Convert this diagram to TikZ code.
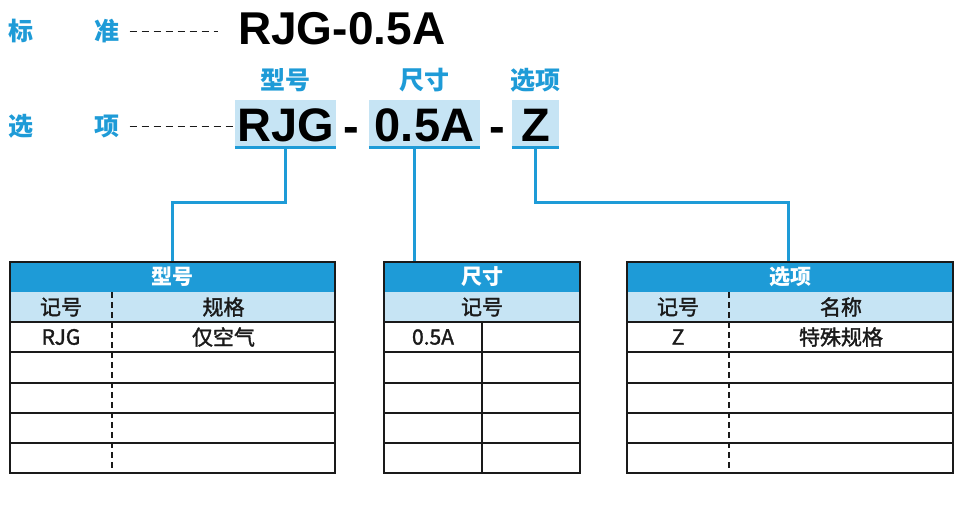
\documentclass[tikz,border=0pt]{standalone}
\usepackage{fontspec}
\setmainfont{Liberation Sans}
\newfontfamily\cjk{Noto Sans CJK SC}
\newfontfamily\cjkm[FakeBold=1.6]{Noto Sans CJK SC}
\usetikzlibrary{positioning}

\definecolor{cblue}{HTML}{1E9BD7}
\definecolor{lblue}{HTML}{C6E4F4}
\definecolor{ink}{HTML}{1A1A1A}

\tikzset{
  lbl/.style={text=cblue, inner sep=0pt, font=\cjk\bfseries\fontsize{25}{25}\selectfont},
  codebox/.style={fill=lblue, inner sep=0pt, anchor=south, minimum height=47pt,
    text height=42pt, text depth=5pt, font=\bfseries\fontsize{47}{47}\selectfont},
  link/.style={cblue, line width=3pt},
  headbar/.style={fill=cblue, text=white, inner sep=0pt, minimum height=30pt,
    font=\cjk\bfseries\fontsize{21}{21}\selectfont},
  cell/.style={inner sep=0pt, text=ink, font=\cjkm\fontsize{21}{21}\selectfont},
  frame/.style={ink, line width=2pt},
  divider/.style={ink, line width=2pt, dash pattern=on 6pt off 4pt}
}

\begin{document}
\begin{tikzpicture}[x=1pt,y=-1pt]
  \useasboundingbox (0,0) rectangle (979,506);

  % left labels
  \node[lbl] (biao) at (21,31) {标};
  \node[lbl] (zhun) at (107,31) {准};
  \node[lbl] (xuan) at (21,126) {选};
  \node[lbl] (xiang) at (107,126) {项};

  % standard code
  \node[anchor=base west, inner sep=0pt, font=\bfseries\fontsize{46}{46}\selectfont] (std) at (238,44) {RJG-0.5A};
  \draw[ink, line width=1pt, dash pattern=on 7pt off 5pt, shorten <=10pt, shorten >=20pt] (zhun.east) -- (zhun.east -| std.west);

  % option code
  \node[codebox, minimum width=101pt] (model) at (285.5,147) {RJG};
  \node[codebox, minimum width=111pt] (size) at (424.5,147) {0.5A};
  \node[codebox, minimum width=47pt] (opt) at (535.5,147) {Z};
  \node[anchor=base, inner sep=0pt, font=\bfseries\fontsize{47}{47}\selectfont] (dashA) at (351,142) {-};
  \node[anchor=base, inner sep=0pt, font=\bfseries\fontsize{47}{47}\selectfont] (dashB) at (497.5,142) {-};
  \draw[ink, line width=1pt, dash pattern=on 7pt off 5pt, shorten <=10pt, shorten >=2pt] (xiang.east) -- (xiang.east -| model.west);

  \draw[link] (model.south west) -- (model.south east);
  \draw[link] (size.south west) -- (size.south east);
  \draw[link] (opt.south west) -- (opt.south east);

  \node[lbl] (lblmodel) at (285.5,80) {型号};
  \node[lbl] (lblsize) at (424.5,80) {尺寸};
  \node[lbl] (lblopt) at (535.5,80) {选项};

  % table headers
  \node[headbar, minimum width=325pt] (tab1) at (172.5,277) {型号};
  \node[headbar, minimum width=196pt] (tab2) at (482,277) {尺寸};
  \node[headbar, minimum width=326pt] (tab3) at (790,277) {选项};
  \fill[lblue] (10,292) rectangle (335,322);
  \fill[lblue] (384,292) rectangle (580,322);
  \fill[lblue] (627,292) rectangle (953,322);

  % connectors
  \draw[link] (model.south) -- ++(0,55) -| (tab1.north);
  \draw[link] ([xshift=-10.5pt]size.south) -- ([xshift=-10.5pt]size.south |- tab2.north);
  \draw[link] (opt.south) -- ++(0,55) -| ([xshift=-2pt]tab3.north);

  % table lines
  \foreach \y in {322,352,383,413,443} {
    \draw[frame] (10,\y) -- (335,\y);
    \draw[frame] (384,\y) -- (580,\y);
    \draw[frame] (627,\y) -- (953,\y);
  }
  \draw[divider] (112,292) -- (112,473);
  \draw[frame] (482,322) -- (482,473);
  \draw[divider] (729,292) -- (729,473);
  \draw[frame] (10,262) rectangle (335,473);
  \draw[frame] (384,262) rectangle (580,473);
  \draw[frame] (627,262) rectangle (953,473);

  % cells
  \node[cell] (c11) at (61,307) {记号};
  \node[cell] (c12) at (223.5,307) {规格};
  \node[cell] (c13) at (61,337) {RJG};
  \node[cell] (c14) at (223.5,337) {仅空气};
  \node[cell] (c21) at (482,307) {记号};
  \node[cell] (c22) at (433,337) {0.5A};
  \node[cell] (c31) at (678,307) {记号};
  \node[cell] (c32) at (841,307) {名称};
  \node[cell] (c33) at (678,337) {Z};
  \node[cell] (c34) at (841,337) {特殊规格};
\end{tikzpicture}
\end{document}
